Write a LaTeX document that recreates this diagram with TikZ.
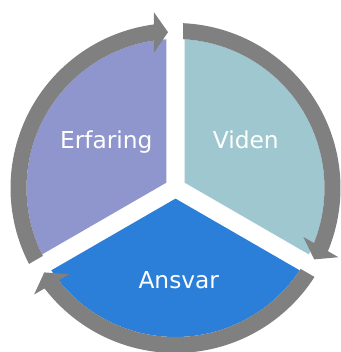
\documentclass[tikz,border=0pt]{standalone}
\usepackage{fontspec}
\setmainfont{DejaVu Sans}
\definecolor{erfcol}{RGB}{143,150,205}
\definecolor{vidcol}{RGB}{158,199,207}
\definecolor{anscol}{RGB}{43,127,216}
\definecolor{ringgray}{RGB}{128,128,128}
\begin{document}
\begin{tikzpicture}[
  segtext/.style={font=\fontsize{23.3pt}{28pt}\selectfont, text=white, anchor=base, inner sep=0pt},
  ringarrow/.style={fill=ringgray, draw=none}
]
\useasboundingbox (-175.5pt,-164pt) rectangle (164.5pt,188pt);
% sectors
\foreach \r/\c in {0/vidcol,-120/anscol,-240/erfcol} {
  \fill[\c, rotate=\r] (9.2pt,5.3pt) -- (86.46:149pt)
    arc[start angle=86.46, end angle=-26.46, radius=149pt] -- cycle;
}
% circular arrows
\foreach \r in {0,-120,-240} {
  \fill[ringarrow, rotate=\r] (87.115:149pt) -- (87.39:165pt)
    arc[start angle=87.39, end angle=-22.51, radius=165pt]
    -- (-23.02:177pt) -- (-27.24:156pt) -- (-20.97:137pt) -- (-21.70:149pt)
    arc[start angle=-21.70, end angle=87.115, radius=149pt] -- cycle;
}
\node[segtext] (erfaring) at (-69.2pt,39.7pt) {Erfaring};
\node[segtext] (viden) at (70.3pt,39.7pt) {Viden};
\node[segtext] (ansvar) at (3.3pt,-100.3pt) {Ansvar};
\end{tikzpicture}
\end{document}
